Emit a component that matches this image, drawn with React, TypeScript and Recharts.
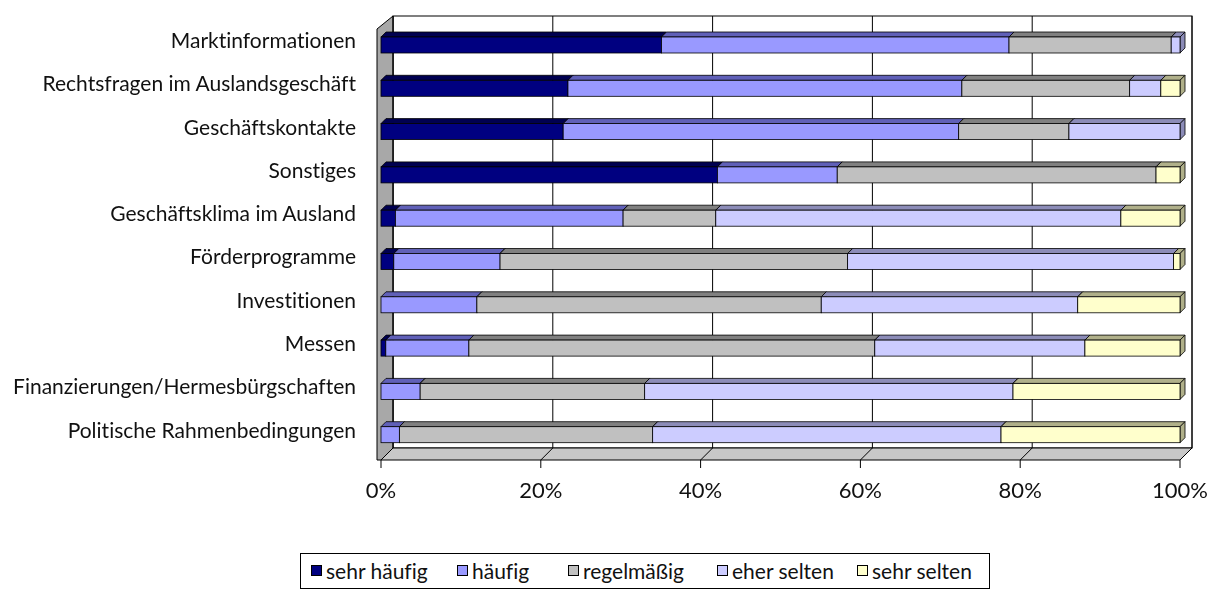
import React from 'react';
import { BarChart, Bar, XAxis, YAxis, Legend, Customized } from 'recharts';

const categories = [
  'Marktinformationen',
  'Rechtsfragen im Auslandsgeschäft',
  'Geschäftskontakte',
  'Sonstiges',
  'Geschäftsklima im Ausland',
  'Förderprogramme',
  'Investitionen',
  'Messen',
  'Finanzierungen/Hermesbürgschaften',
  'Politische Rahmenbedingungen',
];

const sehrHaeufig = [35.1, 23.4, 22.8, 42.1, 1.8, 1.6, 0, 0.6, 0, 0];
const haeufig = [43.5, 49.3, 49.5, 15.0, 28.5, 13.3, 12.0, 10.4, 4.9, 2.3];
const regelmaessig = [20.3, 21.0, 13.8, 39.9, 11.6, 43.5, 43.1, 50.8, 28.1, 31.7];
const eherSelten = [1.1, 3.9, 13.9, 0, 50.7, 40.8, 32.1, 26.3, 46.1, 43.6];
const sehrSelten = [0, 2.4, 0, 3.0, 7.4, 0.8, 12.8, 11.9, 20.9, 22.4];

const xTicks = [0, 0.2, 0.4, 0.6, 0.8, 1];

const series = [
  { key: 'sehrHaeufig', name: 'sehr häufig', fill: '#000080', dark: '#000050', slot: 146 },
  { key: 'haeufig', name: 'häufig', fill: '#9999FF', dark: '#6060B8', slot: 111 },
  { key: 'regelmaessig', name: 'regelmäßig', fill: '#C0C0C0', dark: '#808080', slot: 149 },
  { key: 'eherSelten', name: 'eher selten', fill: '#CCCCFF', dark: '#8C8CB8', slot: 140 },
  { key: 'sehrSelten', name: 'sehr selten', fill: '#FFFFCC', dark: '#B0B08A', slot: 120 },
];

const data = categories.map((name, i) => ({
  name,
  sehrHaeufig: sehrHaeufig[i],
  haeufig: haeufig[i],
  regelmaessig: regelmaessig[i],
  eherSelten: eherSelten[i],
  sehrSelten: sehrSelten[i],
}));

const FONT = 'Lato, sans-serif';
const noLig = { fontVariantLigatures: 'none' } as React.CSSProperties;

// chart is pinned to page origin, so these are page coords
const W = 1208;
const H = 590;
const PL = 381;
const PR = 1180;
const PT = 21;
const PB = 454;
const FT = 28;
const FB = 460;
const DEPTH = 12;

const Walls = () => {
  const FL = PL, FR = PR;
  const BL = FL + DEPTH, BR = FR + DEPTH, BB = FB - DEPTH, BT = FT - DEPTH;
  return (
    <g>
      <rect x={BL} y={BT} width={BR - BL} height={BB - BT} fill="#fff" stroke="#000" strokeWidth={1} />
      <polygon
        points={`${FL - 4},${FT + 1} ${BL},${BT} ${BL},${BB} ${FL},${FB} ${FL - 4},${FB}`}
        fill="#A8A8A8"
        stroke="#000"
        strokeWidth={1}
      />
      <polygon
        points={`${FL},${FB} ${BL},${BB} ${BR},${BB} ${FR},${FB}`}
        fill="#C8C8C8"
        stroke="#000"
        strokeWidth={1}
      />
      {xTicks.map((t) => {
        const xb = BL + t * (BR - BL);
        const xf = FL + t * (FR - FL);
        return (
          <g key={t}>
            <line x1={xb} y1={BT} x2={xb} y2={BB} stroke="#000" strokeWidth={1} />
            <line x1={xf} y1={FB} x2={xb} y2={BB} stroke="#000" strokeWidth={1} />
          </g>
        );
      })}
    </g>
  );
};

const Bar3D = (props: any) => {
  const { x, y, width, height, fill, dark } = props;
  if (!width || width <= 0.2) return null;
  const d = 5;
  return (
    <g stroke="#000" strokeWidth={0.8}>
      <polygon points={`${x},${y + d} ${x + d},${y} ${x + width + d},${y} ${x + width},${y + d}`} fill={dark} />
      <polygon
        points={`${x + width},${y + d} ${x + width + d},${y} ${x + width + d},${y + height - d} ${x + width},${y + height}`}
        fill={dark}
      />
      <rect x={x} y={y + d} width={width} height={height - d} fill={fill} />
    </g>
  );
};

const YTick = (props: any) => {
  const { y, payload } = props;
  return (
    <text
      x={PL - 25}
      y={y}
      textAnchor="end"
      dominantBaseline="middle"
      fontFamily={FONT}
      fontSize={21}
      fill="#111"
      style={noLig}
    >
      {payload.value}
    </text>
  );
};

const XTick = (props: any) => {
  const { x, payload } = props;
  return (
    <g>
      <line x1={x} y1={FB} x2={x} y2={FB + 8} stroke="#000" strokeWidth={1} />
      <text x={x} y={498} textAnchor="middle" fontFamily={FONT} fontSize={22} fill="#111">
        {`${Math.round(payload.value * 100)}%`}
      </text>
    </g>
  );
};

const LegendBox = () => (
  <div
    style={{
      display: 'flex',
      alignItems: 'center',
      border: '1px solid #000',
      boxSizing: 'border-box',
      width: 690,
      height: 36,
      padding: '0 0 2px 10px',
      background: '#fff',
      fontFamily: FONT,
      fontSize: 21,
      color: '#111',
      whiteSpace: 'nowrap',
      ...noLig,
    }}
  >
    {series.map((s) => (
      <span key={s.key} style={{ display: 'inline-flex', alignItems: 'center', width: s.slot }}>
        <span
          style={{
            display: 'inline-block',
            width: 9,
            height: 9,
            background: s.fill,
            border: '1px solid #000',
            marginRight: 4,
          }}
        />
        {s.name}
      </span>
    ))}
  </div>
);

export default function App() {
  return (
    <div style={{ position: 'fixed', left: 0, top: 0 }}>
      <BarChart
        width={W}
        height={H}
        data={data}
        layout="vertical"
        stackOffset="expand"
        barSize={21}
        margin={{ top: PT, right: W - PR, left: 0, bottom: 86 }}
      >
        <Customized component={Walls} />
        <XAxis
          type="number"
          domain={[0, 1]}
          ticks={xTicks}
          axisLine={false}
          tickLine={false}
          height={50}
          tick={<XTick />}
        />
        <YAxis type="category" dataKey="name" width={PL} axisLine={false} tickLine={false} tick={<YTick />} />
        {series.map((s) => (
          <Bar
            key={s.key}
            dataKey={s.key}
            name={s.name}
            stackId="a"
            fill={s.fill}
            isAnimationActive={false}
            shape={(p: any) => <Bar3D {...p} fill={s.fill} dark={s.dark} />}
          />
        ))}
        <Legend
          layout="horizontal"
          verticalAlign="middle"
          align="center"
          content={() => <LegendBox />}
          wrapperStyle={{ position: 'absolute', top: 553, left: 300, width: 'auto' }}
        />
      </BarChart>
    </div>
  );
}
